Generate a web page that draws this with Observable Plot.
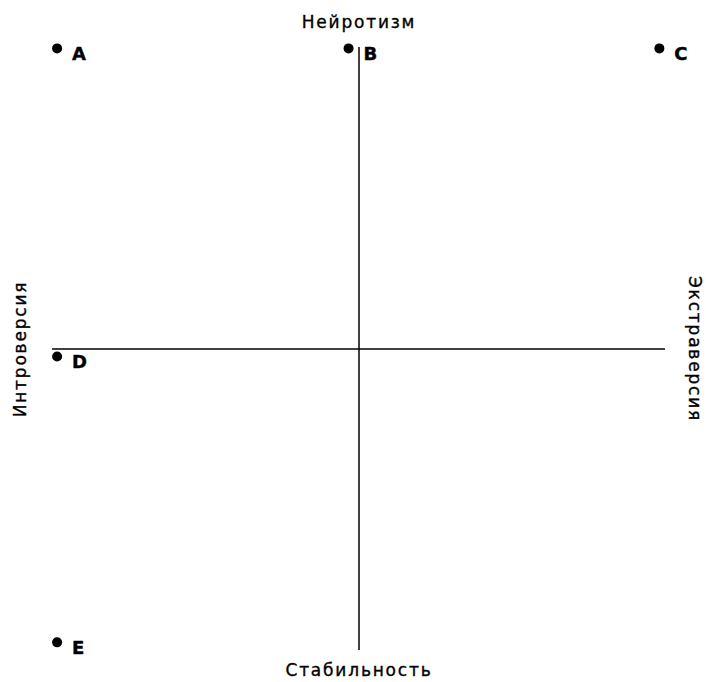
<!DOCTYPE html>
<html>
<head>
<meta charset="utf-8">
<script src="https://cdn.jsdelivr.net/npm/d3@7"></script>
<script src="https://cdn.jsdelivr.net/npm/@observablehq/plot@0.6"></script>
<style>
  body { margin: 0; background: #fff; }
  #chart svg { display: block; }
  .axtitle text { letter-spacing: 1.8px; }
</style>
</head>
<body>
<div id="chart"></div>
<script>
const labels = ["A", "B", "C", "D", "E"];
const xs = [-0.985, -0.034, 0.98, -0.985, -0.985];
const ys = [0.997, 0.997, 0.997, -0.025, -0.973];
const axisTitles = ["Нейротизм", "Стабильность", "Интроверсия", "Экстраверсия"];

const points = labels.map((l, i) => ({label: l, x: xs[i], y: ys[i]}));

const font = "DejaVu Sans, Liberation Sans, Arial, sans-serif";
const tOpts = {fontSize: 17, fill: "#000", stroke: "#000", strokeWidth: 0.35, className: "axtitle"};

const chart = Plot.plot({
  width: 706,
  height: 682,
  marginLeft: 52,
  marginRight: 41,
  marginTop: 47,
  marginBottom: 32,
  x: {domain: [-1, 1], axis: null},
  y: {domain: [-1, 1], axis: null},
  style: {fontFamily: font, background: "#fff", color: "#000"},
  marks: [
    Plot.ruleY([0], {stroke: "#000", strokeWidth: 1.5}),
    Plot.ruleX([0], {stroke: "#000", strokeWidth: 1.5}),
    Plot.dot(points, {x: "x", y: "y", r: 5, fill: "#000", stroke: "none"}),
    Plot.text(points, {x: "x", y: "y", text: "label", dx: 15, dy: 6, textAnchor: "start", fontWeight: "bold", fontSize: 18, fill: "#000", stroke: "#000", strokeWidth: 0.4}),
    Plot.text([axisTitles[0]], {x: 0, y: 1, text: d => d, dy: -25, ...tOpts}),
    Plot.text([axisTitles[1]], {x: 0, y: -1, text: d => d, dy: 20, ...tOpts}),
    Plot.text([axisTitles[2]], {x: -1, y: 0, text: d => d, dx: -32, rotate: -90, ...tOpts}),
    Plot.text([axisTitles[3]], {x: 1, y: 0, text: d => d, dx: 29, rotate: 90, ...tOpts})
  ]
});
document.getElementById("chart").append(chart);
</script>
</body>
</html>
